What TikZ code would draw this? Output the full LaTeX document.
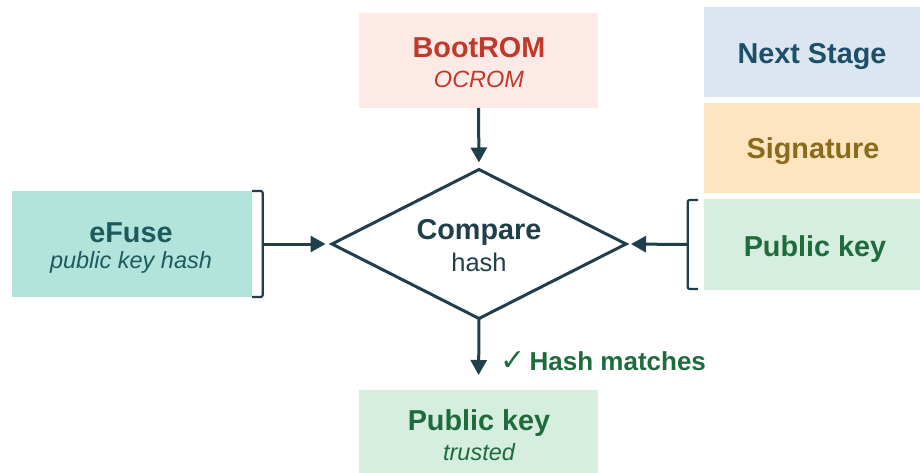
\documentclass[tikz,border=0pt]{standalone}
\usepackage{fontspec}
\setmainfont{Liberation Sans}
\newfontfamily\symfont{DejaVu Sans}
\usetikzlibrary{arrows.meta,shapes.geometric}

\definecolor{inkline}{HTML}{1F3F4A}
\definecolor{bootfill}{HTML}{FDEAE6}
\definecolor{boottext}{HTML}{C0392B}
\definecolor{nextfill}{HTML}{DCE6F0}
\definecolor{nexttext}{HTML}{1B4F6A}
\definecolor{sigfill}{HTML}{FDE6BF}
\definecolor{sigtext}{HTML}{8C6A1C}
\definecolor{keyfill}{HTML}{D5EEDF}
\definecolor{keytext}{HTML}{1E6B3C}
\definecolor{efusefill}{HTML}{B3E4DC}
\definecolor{efusetext}{HTML}{1C5A5E}

\tikzset{
  box/.style={rectangle, draw=none, inner sep=0pt, outer sep=0pt},
  title/.style={anchor=base, inner sep=0pt, font=\fontsize{28.8}{34}\selectfont\bfseries},
  subtitle/.style={anchor=base, inner sep=0pt, font=\fontsize{23.5}{28}\selectfont\itshape},
  plain/.style={anchor=base, inner sep=0pt, font=\fontsize{25.5}{30}\selectfont},
  flow/.style={draw=inkline, line width=3pt, -{Triangle[length=15pt,width=16pt]}},
  bracket/.style={draw=inkline, line width=2.2pt, rounded corners=2pt},
}

\begin{document}
\begin{tikzpicture}[x=1pt, y=-1pt]
\useasboundingbox (0,0) rectangle (920,473);

% coloured boxes
\node[box, fill=bootfill, minimum width=239pt, minimum height=95pt] (bootrom) at (478.5,60.5) {};
\node[box, fill=nextfill, minimum width=216pt, minimum height=90pt] (next) at (812,52) {};
\node[box, fill=sigfill, minimum width=216pt, minimum height=90pt] (sig) at (812,148) {};
\node[box, fill=keyfill, minimum width=216pt, minimum height=91pt] (pubkey) at (812,244.5) {};
\node[box, fill=efusefill, minimum width=240pt, minimum height=106pt] (efuse) at (132,244) {};
\node[box, fill=keyfill, minimum width=239pt, minimum height=83pt] (trusted) at (478.5,431.5) {};

% decision diamond
\node[diamond, draw=inkline, line width=3pt, fill=white, inner sep=0pt, outer sep=0pt,
      minimum width=294pt, minimum height=149pt] (cmp) at (479,244) {};

% texts
\node[title, text=boottext] (bootT) at (479,58) {BootROM};
\node[subtitle, text=boottext] (bootS) at (479,88) {OCROM};
\node[title, text=nexttext] (nextT) at (812,64) {Next Stage};
\node[title, text=sigtext] (sigT) at (813,159) {Signature};
\node[title, text=keytext] (keyT) at (815,256) {Public key};
\node[title, text=efusetext] (efuseT) at (131,242) {eFuse};
\node[subtitle, text=efusetext] (efuseS) at (131,268) {public key hash};
\node[title, text=inkline] (cmpT) at (479,239) {Compare};
\node[plain, text=inkline] (cmpS) at (479,271.5) {hash};
\node[title, text=keytext] (trustT) at (479,430) {Public key};
\node[subtitle, text=keytext] (trustS) at (479,460) {trusted};
\node[anchor=base west, inner sep=0pt, text=keytext, font=\fontsize{26}{31}\selectfont\bfseries]
  (match) at (500,370) {{\symfont\bfseries\fontsize{30}{30}\selectfont ✓}\,Hash matches};

% brackets grouping the inputs
\coordinate (ebr) at ([xshift=10.7pt]efuse.east);
\draw[bracket] (efuse.north east) -| (ebr) |- (efuse.south east);
\coordinate (kbtop) at ([xshift=-6pt, yshift=-1pt]pubkey.north west);
\coordinate (kbbot) at ([xshift=-6pt, yshift=1pt]pubkey.south west);
\coordinate (kbr) at ([xshift=-16.3pt]pubkey.west);
\draw[bracket] (kbtop) -| (kbr) |- (kbbot);

% connectors
\draw[flow, shorten >=7pt] (bootrom.south) -- (cmp.north);
\draw[flow, shorten >=6.5pt] (ebr) -- (cmp.west);
\draw[flow, shorten >=5pt] (kbr) -- (cmp.east);
\draw[flow, shorten >=15pt] (cmp.south) -- (trusted.north);
\end{tikzpicture}
\end{document}
